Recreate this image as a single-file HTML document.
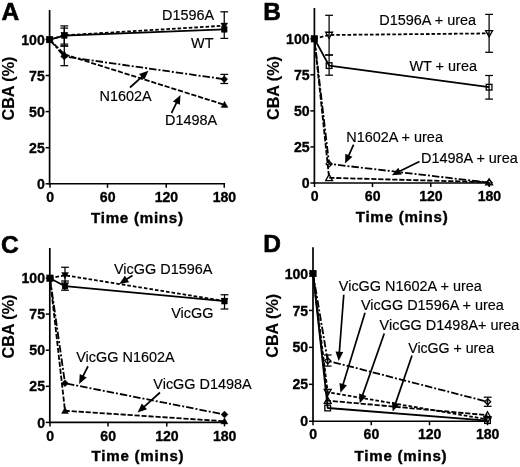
<!DOCTYPE html>
<html><head><meta charset="utf-8"><title>CBA time course</title>
<style>
html,body{margin:0;padding:0;background:#fff;}
svg{display:block;font-family:"Liberation Sans", sans-serif;}
text{fill:#000;}
</style></head>
<body>
<svg width="520" height="467" viewBox="0 0 520 467">
<rect x="0" y="0" width="520" height="467" fill="#fff"/>
<line x1="49.60" y1="10.00" x2="49.60" y2="184.60" stroke="#000" stroke-width="1.7" stroke-linecap="butt"/>
<line x1="48.80" y1="183.80" x2="225.05" y2="183.80" stroke="#000" stroke-width="1.6" stroke-linecap="butt"/>
<line x1="45.60" y1="183.80" x2="49.60" y2="183.80" stroke="#000" stroke-width="1.5" stroke-linecap="butt"/>
<text transform="translate(44.80 188.90) scale(0.93 1)" font-size="15.2" font-weight="bold" stroke="#000" stroke-width="0.35" text-anchor="end">0</text>
<line x1="45.60" y1="147.70" x2="49.60" y2="147.70" stroke="#000" stroke-width="1.5" stroke-linecap="butt"/>
<text transform="translate(44.80 152.80) scale(0.93 1)" font-size="15.2" font-weight="bold" stroke="#000" stroke-width="0.35" text-anchor="end">25</text>
<line x1="45.60" y1="111.60" x2="49.60" y2="111.60" stroke="#000" stroke-width="1.5" stroke-linecap="butt"/>
<text transform="translate(44.80 116.70) scale(0.93 1)" font-size="15.2" font-weight="bold" stroke="#000" stroke-width="0.35" text-anchor="end">50</text>
<line x1="45.60" y1="75.50" x2="49.60" y2="75.50" stroke="#000" stroke-width="1.5" stroke-linecap="butt"/>
<text transform="translate(44.80 80.60) scale(0.93 1)" font-size="15.2" font-weight="bold" stroke="#000" stroke-width="0.35" text-anchor="end">75</text>
<line x1="45.60" y1="39.40" x2="49.60" y2="39.40" stroke="#000" stroke-width="1.5" stroke-linecap="butt"/>
<text transform="translate(44.80 44.50) scale(0.93 1)" font-size="15.2" font-weight="bold" stroke="#000" stroke-width="0.35" text-anchor="end">100</text>
<line x1="50.00" y1="183.80" x2="50.00" y2="187.80" stroke="#000" stroke-width="1.5" stroke-linecap="butt"/>
<text transform="translate(50.20 202.00) scale(0.93 1)" font-size="15.2" font-weight="bold" stroke="#000" stroke-width="0.35" text-anchor="middle">0</text>
<line x1="107.50" y1="183.80" x2="107.50" y2="187.80" stroke="#000" stroke-width="1.5" stroke-linecap="butt"/>
<text transform="translate(107.70 202.00) scale(0.93 1)" font-size="15.2" font-weight="bold" stroke="#000" stroke-width="0.35" text-anchor="middle">60</text>
<line x1="166.25" y1="183.80" x2="166.25" y2="187.80" stroke="#000" stroke-width="1.5" stroke-linecap="butt"/>
<text transform="translate(166.45 202.00) scale(0.93 1)" font-size="15.2" font-weight="bold" stroke="#000" stroke-width="0.35" text-anchor="middle">120</text>
<line x1="224.25" y1="183.80" x2="224.25" y2="187.80" stroke="#000" stroke-width="1.5" stroke-linecap="butt"/>
<text transform="translate(224.45 202.00) scale(0.93 1)" font-size="15.2" font-weight="bold" stroke="#000" stroke-width="0.35" text-anchor="middle">180</text>
<text transform="translate(1.50 19.60)" font-size="24.5" font-weight="bold" stroke="#000" stroke-width="0.6" text-anchor="start">A</text>
<text transform="translate(14.30 88.50) rotate(-90) scale(0.965 1)" font-size="16.7" font-weight="bold" stroke="#000" stroke-width="0.15" text-anchor="middle">CBA (%)</text>
<text transform="translate(137.38 223.00)" font-size="15.1" font-weight="bold" stroke="#000" stroke-width="0.4" letter-spacing="0.76" text-anchor="middle">Time (mins)</text>
<line x1="64.30" y1="25.90" x2="64.30" y2="44.10" stroke="#000" stroke-width="1.25" stroke-linecap="butt"/>
<line x1="60.40" y1="25.90" x2="68.20" y2="25.90" stroke="#000" stroke-width="1.25" stroke-linecap="butt"/>
<line x1="60.40" y1="44.10" x2="68.20" y2="44.10" stroke="#000" stroke-width="1.25" stroke-linecap="butt"/>
<line x1="64.30" y1="28.10" x2="64.30" y2="46.00" stroke="#000" stroke-width="1.25" stroke-linecap="butt"/>
<line x1="60.40" y1="28.10" x2="68.20" y2="28.10" stroke="#000" stroke-width="1.25" stroke-linecap="butt"/>
<line x1="60.40" y1="46.00" x2="68.20" y2="46.00" stroke="#000" stroke-width="1.25" stroke-linecap="butt"/>
<line x1="64.30" y1="46.00" x2="64.30" y2="65.70" stroke="#000" stroke-width="1.25" stroke-linecap="butt"/>
<line x1="60.40" y1="46.00" x2="68.20" y2="46.00" stroke="#000" stroke-width="1.25" stroke-linecap="butt"/>
<line x1="60.40" y1="65.70" x2="68.20" y2="65.70" stroke="#000" stroke-width="1.25" stroke-linecap="butt"/>
<line x1="224.25" y1="11.80" x2="224.25" y2="38.40" stroke="#000" stroke-width="1.25" stroke-linecap="butt"/>
<line x1="220.35" y1="11.80" x2="228.15" y2="11.80" stroke="#000" stroke-width="1.25" stroke-linecap="butt"/>
<line x1="220.35" y1="38.40" x2="228.15" y2="38.40" stroke="#000" stroke-width="1.25" stroke-linecap="butt"/>
<line x1="224.25" y1="74.40" x2="224.25" y2="83.50" stroke="#000" stroke-width="1.25" stroke-linecap="butt"/>
<line x1="220.35" y1="74.40" x2="228.15" y2="74.40" stroke="#000" stroke-width="1.25" stroke-linecap="butt"/>
<line x1="220.35" y1="83.50" x2="228.15" y2="83.50" stroke="#000" stroke-width="1.25" stroke-linecap="butt"/>
<polyline points="49.60,39.60 64.30,35.30 224.25,25.70" fill="none" stroke="#000" stroke-width="1.8" stroke-dasharray="3.6 2" stroke-linejoin="round"/>
<polyline points="49.60,39.60 64.30,56.50 224.25,79.20" fill="none" stroke="#000" stroke-width="1.8" stroke-dasharray="7.5 2 2 2" stroke-linejoin="round"/>
<polyline points="49.60,39.60 64.30,54.30 224.50,104.80" fill="none" stroke="#000" stroke-width="1.8" stroke-dasharray="5.2 1.8" stroke-linejoin="round"/>
<polyline points="49.60,39.60 64.30,35.60 224.25,29.40" fill="none" stroke="#000" stroke-width="1.8" stroke-linejoin="round"/>
<polygon points="64.30,38.75 67.75,32.54 60.85,32.54" fill="#000" stroke="#000" stroke-width="0.4"/>
<polygon points="224.25,29.15 227.70,22.94 220.80,22.94" fill="#000" stroke="#000" stroke-width="0.4"/>
<polygon points="64.30,53.05 67.75,56.50 64.30,59.95 60.85,56.50" fill="#000" stroke="#000" stroke-width="0.4"/>
<polygon points="224.25,75.75 227.70,79.20 224.25,82.65 220.80,79.20" fill="#000" stroke="#000" stroke-width="0.4"/>
<polygon points="64.30,50.85 67.75,57.06 60.85,57.06" fill="#000" stroke="#000" stroke-width="0.4"/>
<polygon points="224.50,101.35 227.95,107.56 221.05,107.56" fill="#000" stroke="#000" stroke-width="0.4"/>
<rect x="61.45" y="32.75" width="5.70" height="5.70" fill="#000" stroke="#000" stroke-width="0.4"/>
<rect x="221.40" y="26.55" width="5.70" height="5.70" fill="#000" stroke="#000" stroke-width="0.4"/>
<rect x="46.27" y="36.27" width="6.65" height="6.65" fill="#000" stroke="#000" stroke-width="0.4"/>
<text transform="translate(162.00 20.00)" font-size="14.45" stroke="#000" stroke-width="0.15" text-anchor="start">D1596A</text>
<text transform="translate(191.00 47.60)" font-size="14.45" stroke="#000" stroke-width="0.15" text-anchor="start">WT</text>
<text transform="translate(99.50 101.30)" font-size="14.45" stroke="#000" stroke-width="0.15" text-anchor="start">N1602A</text>
<text transform="translate(165.00 125.00)" font-size="14.45" stroke="#000" stroke-width="0.15" text-anchor="start">D1498A</text>
<line x1="130.00" y1="87.50" x2="142.39" y2="76.30" stroke="#000" stroke-width="1.7" stroke-linecap="butt"/>
<polygon points="148.47,70.80 144.26,79.86 139.03,74.08" fill="#000"/>
<line x1="171.50" y1="113.00" x2="176.85" y2="102.24" stroke="#000" stroke-width="1.7" stroke-linecap="butt"/>
<polygon points="180.50,94.89 179.90,104.87 172.91,101.40" fill="#000"/>
<line x1="314.40" y1="8.00" x2="314.40" y2="183.80" stroke="#000" stroke-width="1.7" stroke-linecap="butt"/>
<line x1="313.60" y1="183.00" x2="490.05" y2="183.00" stroke="#000" stroke-width="1.6" stroke-linecap="butt"/>
<line x1="310.40" y1="183.00" x2="314.40" y2="183.00" stroke="#000" stroke-width="1.5" stroke-linecap="butt"/>
<text transform="translate(309.60 188.10) scale(0.93 1)" font-size="15.2" font-weight="bold" stroke="#000" stroke-width="0.35" text-anchor="end">0</text>
<line x1="310.40" y1="146.94" x2="314.40" y2="146.94" stroke="#000" stroke-width="1.5" stroke-linecap="butt"/>
<text transform="translate(309.60 152.04) scale(0.93 1)" font-size="15.2" font-weight="bold" stroke="#000" stroke-width="0.35" text-anchor="end">25</text>
<line x1="310.40" y1="110.88" x2="314.40" y2="110.88" stroke="#000" stroke-width="1.5" stroke-linecap="butt"/>
<text transform="translate(309.60 115.97) scale(0.93 1)" font-size="15.2" font-weight="bold" stroke="#000" stroke-width="0.35" text-anchor="end">50</text>
<line x1="310.40" y1="74.81" x2="314.40" y2="74.81" stroke="#000" stroke-width="1.5" stroke-linecap="butt"/>
<text transform="translate(309.60 79.91) scale(0.93 1)" font-size="15.2" font-weight="bold" stroke="#000" stroke-width="0.35" text-anchor="end">75</text>
<line x1="310.40" y1="38.75" x2="314.40" y2="38.75" stroke="#000" stroke-width="1.5" stroke-linecap="butt"/>
<text transform="translate(309.60 43.85) scale(0.93 1)" font-size="15.2" font-weight="bold" stroke="#000" stroke-width="0.35" text-anchor="end">100</text>
<line x1="314.50" y1="183.00" x2="314.50" y2="187.00" stroke="#000" stroke-width="1.5" stroke-linecap="butt"/>
<text transform="translate(314.70 201.20) scale(0.93 1)" font-size="15.2" font-weight="bold" stroke="#000" stroke-width="0.35" text-anchor="middle">0</text>
<line x1="372.50" y1="183.00" x2="372.50" y2="187.00" stroke="#000" stroke-width="1.5" stroke-linecap="butt"/>
<text transform="translate(372.70 201.20) scale(0.93 1)" font-size="15.2" font-weight="bold" stroke="#000" stroke-width="0.35" text-anchor="middle">60</text>
<line x1="430.75" y1="183.00" x2="430.75" y2="187.00" stroke="#000" stroke-width="1.5" stroke-linecap="butt"/>
<text transform="translate(430.95 201.20) scale(0.93 1)" font-size="15.2" font-weight="bold" stroke="#000" stroke-width="0.35" text-anchor="middle">120</text>
<line x1="489.25" y1="183.00" x2="489.25" y2="187.00" stroke="#000" stroke-width="1.5" stroke-linecap="butt"/>
<text transform="translate(489.45 201.20) scale(0.93 1)" font-size="15.2" font-weight="bold" stroke="#000" stroke-width="0.35" text-anchor="middle">180</text>
<text transform="translate(263.30 19.60)" font-size="24.5" font-weight="bold" stroke="#000" stroke-width="0.6" text-anchor="start">B</text>
<text transform="translate(279.20 88.00) rotate(-90) scale(0.965 1)" font-size="16.7" font-weight="bold" stroke="#000" stroke-width="0.15" text-anchor="middle">CBA (%)</text>
<text transform="translate(402.08 222.00)" font-size="15.1" font-weight="bold" stroke="#000" stroke-width="0.4" letter-spacing="0.76" text-anchor="middle">Time (mins)</text>
<line x1="329.10" y1="15.30" x2="329.10" y2="55.00" stroke="#000" stroke-width="1.25" stroke-linecap="butt"/>
<line x1="325.20" y1="15.30" x2="333.00" y2="15.30" stroke="#000" stroke-width="1.25" stroke-linecap="butt"/>
<line x1="325.20" y1="55.00" x2="333.00" y2="55.00" stroke="#000" stroke-width="1.25" stroke-linecap="butt"/>
<line x1="329.10" y1="55.00" x2="329.10" y2="75.20" stroke="#000" stroke-width="1.25" stroke-linecap="butt"/>
<line x1="325.20" y1="55.00" x2="333.00" y2="55.00" stroke="#000" stroke-width="1.25" stroke-linecap="butt"/>
<line x1="325.20" y1="75.20" x2="333.00" y2="75.20" stroke="#000" stroke-width="1.25" stroke-linecap="butt"/>
<line x1="489.10" y1="14.40" x2="489.10" y2="52.30" stroke="#000" stroke-width="1.25" stroke-linecap="butt"/>
<line x1="485.20" y1="14.40" x2="493.00" y2="14.40" stroke="#000" stroke-width="1.25" stroke-linecap="butt"/>
<line x1="485.20" y1="52.30" x2="493.00" y2="52.30" stroke="#000" stroke-width="1.25" stroke-linecap="butt"/>
<line x1="489.10" y1="75.50" x2="489.10" y2="99.10" stroke="#000" stroke-width="1.25" stroke-linecap="butt"/>
<line x1="485.20" y1="75.50" x2="493.00" y2="75.50" stroke="#000" stroke-width="1.25" stroke-linecap="butt"/>
<line x1="485.20" y1="99.10" x2="493.00" y2="99.10" stroke="#000" stroke-width="1.25" stroke-linecap="butt"/>
<polyline points="314.40,38.75 329.10,35.00 489.10,33.40" fill="none" stroke="#000" stroke-width="1.8" stroke-dasharray="3.6 2" stroke-linejoin="round"/>
<polyline points="314.40,38.75 329.10,163.90 489.10,182.60" fill="none" stroke="#000" stroke-width="1.8" stroke-dasharray="7.5 2 2 2" stroke-linejoin="round"/>
<polyline points="314.40,38.75 329.10,177.80 489.10,182.20" fill="none" stroke="#000" stroke-width="1.8" stroke-dasharray="5.2 1.8" stroke-linejoin="round"/>
<polyline points="314.40,38.75 329.10,65.60 489.10,87.20" fill="none" stroke="#000" stroke-width="1.8" stroke-linejoin="round"/>
<polygon points="329.10,38.45 332.55,32.24 325.65,32.24" fill="none" stroke="#000" stroke-width="1.3"/>
<polygon points="489.10,36.85 492.55,30.64 485.65,30.64" fill="none" stroke="#000" stroke-width="1.3"/>
<polygon points="329.10,160.90 332.10,163.90 329.10,166.90 326.10,163.90" fill="none" stroke="#000" stroke-width="1.3"/>
<polygon points="489.10,179.60 492.10,182.60 489.10,185.60 486.10,182.60" fill="none" stroke="#000" stroke-width="1.3"/>
<polygon points="329.10,174.35 332.55,180.56 325.65,180.56" fill="none" stroke="#000" stroke-width="1.3"/>
<polygon points="489.10,178.75 492.55,184.96 485.65,184.96" fill="none" stroke="#000" stroke-width="1.3"/>
<rect x="326.25" y="62.75" width="5.70" height="5.70" fill="none" stroke="#000" stroke-width="1.3"/>
<rect x="486.25" y="84.35" width="5.70" height="5.70" fill="none" stroke="#000" stroke-width="1.3"/>
<rect x="311.07" y="35.42" width="6.65" height="6.65" fill="#000" stroke="#000" stroke-width="0.4"/>
<text transform="translate(379.30 24.50)" font-size="14.45" stroke="#000" stroke-width="0.15" text-anchor="start">D1596A + urea</text>
<text transform="translate(409.40 70.75)" font-size="14.45" stroke="#000" stroke-width="0.15" text-anchor="start">WT + urea</text>
<text transform="translate(346.20 142.40)" font-size="14.45" stroke="#000" stroke-width="0.15" text-anchor="start">N1602A + urea</text>
<text transform="translate(421.00 162.50)" font-size="14.45" stroke="#000" stroke-width="0.15" text-anchor="start">D1498A + urea</text>
<line x1="353.60" y1="144.60" x2="348.47" y2="156.13" stroke="#000" stroke-width="1.7" stroke-linecap="butt"/>
<polygon points="345.13,163.62 345.31,153.63 352.44,156.80" fill="#000"/>
<line x1="419.50" y1="161.50" x2="399.14" y2="171.56" stroke="#000" stroke-width="1.7" stroke-linecap="butt"/>
<polygon points="391.79,175.20 398.31,167.63 401.77,174.62" fill="#000"/>
<line x1="49.80" y1="248.00" x2="49.80" y2="423.20" stroke="#000" stroke-width="1.7" stroke-linecap="butt"/>
<line x1="49.00" y1="422.40" x2="225.30" y2="422.40" stroke="#000" stroke-width="1.6" stroke-linecap="butt"/>
<line x1="45.80" y1="422.40" x2="49.80" y2="422.40" stroke="#000" stroke-width="1.5" stroke-linecap="butt"/>
<text transform="translate(45.00 427.50) scale(0.93 1)" font-size="15.2" font-weight="bold" stroke="#000" stroke-width="0.35" text-anchor="end">0</text>
<line x1="45.80" y1="386.30" x2="49.80" y2="386.30" stroke="#000" stroke-width="1.5" stroke-linecap="butt"/>
<text transform="translate(45.00 391.40) scale(0.93 1)" font-size="15.2" font-weight="bold" stroke="#000" stroke-width="0.35" text-anchor="end">25</text>
<line x1="45.80" y1="350.20" x2="49.80" y2="350.20" stroke="#000" stroke-width="1.5" stroke-linecap="butt"/>
<text transform="translate(45.00 355.30) scale(0.93 1)" font-size="15.2" font-weight="bold" stroke="#000" stroke-width="0.35" text-anchor="end">50</text>
<line x1="45.80" y1="314.10" x2="49.80" y2="314.10" stroke="#000" stroke-width="1.5" stroke-linecap="butt"/>
<text transform="translate(45.00 319.20) scale(0.93 1)" font-size="15.2" font-weight="bold" stroke="#000" stroke-width="0.35" text-anchor="end">75</text>
<line x1="45.80" y1="278.00" x2="49.80" y2="278.00" stroke="#000" stroke-width="1.5" stroke-linecap="butt"/>
<text transform="translate(45.00 283.10) scale(0.93 1)" font-size="15.2" font-weight="bold" stroke="#000" stroke-width="0.35" text-anchor="end">100</text>
<line x1="50.00" y1="422.40" x2="50.00" y2="426.40" stroke="#000" stroke-width="1.5" stroke-linecap="butt"/>
<text transform="translate(50.20 440.60) scale(0.93 1)" font-size="15.2" font-weight="bold" stroke="#000" stroke-width="0.35" text-anchor="middle">0</text>
<line x1="108.00" y1="422.40" x2="108.00" y2="426.40" stroke="#000" stroke-width="1.5" stroke-linecap="butt"/>
<text transform="translate(108.20 440.60) scale(0.93 1)" font-size="15.2" font-weight="bold" stroke="#000" stroke-width="0.35" text-anchor="middle">60</text>
<line x1="166.75" y1="422.40" x2="166.75" y2="426.40" stroke="#000" stroke-width="1.5" stroke-linecap="butt"/>
<text transform="translate(166.95 440.60) scale(0.93 1)" font-size="15.2" font-weight="bold" stroke="#000" stroke-width="0.35" text-anchor="middle">120</text>
<line x1="224.50" y1="422.40" x2="224.50" y2="426.40" stroke="#000" stroke-width="1.5" stroke-linecap="butt"/>
<text transform="translate(224.70 440.60) scale(0.93 1)" font-size="15.2" font-weight="bold" stroke="#000" stroke-width="0.35" text-anchor="middle">180</text>
<text transform="translate(1.10 252.80)" font-size="24.5" font-weight="bold" stroke="#000" stroke-width="0.6" text-anchor="start">C</text>
<text transform="translate(14.30 326.50) rotate(-90) scale(0.965 1)" font-size="16.7" font-weight="bold" stroke="#000" stroke-width="0.15" text-anchor="middle">CBA (%)</text>
<text transform="translate(137.98 461.20)" font-size="15.1" font-weight="bold" stroke="#000" stroke-width="0.4" letter-spacing="0.76" text-anchor="middle">Time (mins)</text>
<line x1="65.00" y1="267.25" x2="65.00" y2="283.00" stroke="#000" stroke-width="1.25" stroke-linecap="butt"/>
<line x1="61.10" y1="267.25" x2="68.90" y2="267.25" stroke="#000" stroke-width="1.25" stroke-linecap="butt"/>
<line x1="61.10" y1="283.00" x2="68.90" y2="283.00" stroke="#000" stroke-width="1.25" stroke-linecap="butt"/>
<line x1="65.00" y1="281.00" x2="65.00" y2="290.25" stroke="#000" stroke-width="1.25" stroke-linecap="butt"/>
<line x1="61.10" y1="281.00" x2="68.90" y2="281.00" stroke="#000" stroke-width="1.25" stroke-linecap="butt"/>
<line x1="61.10" y1="290.25" x2="68.90" y2="290.25" stroke="#000" stroke-width="1.25" stroke-linecap="butt"/>
<line x1="224.50" y1="294.75" x2="224.50" y2="309.00" stroke="#000" stroke-width="1.25" stroke-linecap="butt"/>
<line x1="220.60" y1="294.75" x2="228.40" y2="294.75" stroke="#000" stroke-width="1.25" stroke-linecap="butt"/>
<line x1="220.60" y1="309.00" x2="228.40" y2="309.00" stroke="#000" stroke-width="1.25" stroke-linecap="butt"/>
<polyline points="50.00,278.25 65.00,275.25 224.50,301.00" fill="none" stroke="#000" stroke-width="1.8" stroke-dasharray="3.6 2" stroke-linejoin="round"/>
<polyline points="50.00,278.25 65.00,383.25 224.50,414.50" fill="none" stroke="#000" stroke-width="1.8" stroke-dasharray="7.5 2 2 2" stroke-linejoin="round"/>
<polyline points="50.00,278.25 65.00,410.75 224.50,421.25" fill="none" stroke="#000" stroke-width="1.8" stroke-dasharray="5.2 1.8" stroke-linejoin="round"/>
<polyline points="50.00,278.25 65.00,286.20 224.50,301.20" fill="none" stroke="#000" stroke-width="1.8" stroke-linejoin="round"/>
<polygon points="65.00,278.70 68.45,272.49 61.55,272.49" fill="#000" stroke="#000" stroke-width="0.4"/>
<polygon points="224.50,304.45 227.95,298.24 221.05,298.24" fill="#000" stroke="#000" stroke-width="0.4"/>
<polygon points="65.00,379.80 68.45,383.25 65.00,386.70 61.55,383.25" fill="#000" stroke="#000" stroke-width="0.4"/>
<polygon points="224.50,411.05 227.95,414.50 224.50,417.95 221.05,414.50" fill="#000" stroke="#000" stroke-width="0.4"/>
<polygon points="65.00,407.30 68.45,413.51 61.55,413.51" fill="#000" stroke="#000" stroke-width="0.4"/>
<polygon points="224.50,417.80 227.95,424.01 221.05,424.01" fill="#000" stroke="#000" stroke-width="0.4"/>
<rect x="62.15" y="283.35" width="5.70" height="5.70" fill="#000" stroke="#000" stroke-width="0.4"/>
<rect x="221.65" y="298.35" width="5.70" height="5.70" fill="#000" stroke="#000" stroke-width="0.4"/>
<rect x="46.67" y="274.93" width="6.65" height="6.65" fill="#000" stroke="#000" stroke-width="0.4"/>
<text transform="translate(114.00 273.50)" font-size="14.45" stroke="#000" stroke-width="0.15" text-anchor="start">VicGG D1596A</text>
<text transform="translate(171.25 317.75)" font-size="14.45" stroke="#000" stroke-width="0.15" text-anchor="start">VicGG</text>
<text transform="translate(76.25 361.75)" font-size="14.45" stroke="#000" stroke-width="0.15" text-anchor="start">VicGG N1602A</text>
<text transform="translate(153.30 388.75)" font-size="14.45" stroke="#000" stroke-width="0.15" text-anchor="start">VicGG D1498A</text>
<line x1="132.50" y1="275.50" x2="126.15" y2="279.56" stroke="#000" stroke-width="1.7" stroke-linecap="butt"/>
<polygon points="119.24,283.99 124.89,275.74 129.09,282.31" fill="#000"/>
<line x1="88.00" y1="366.25" x2="82.76" y2="376.72" stroke="#000" stroke-width="1.7" stroke-linecap="butt"/>
<polygon points="79.10,384.05 79.72,374.08 86.70,377.57" fill="#000"/>
<line x1="160.00" y1="392.50" x2="143.69" y2="407.13" stroke="#000" stroke-width="1.7" stroke-linecap="butt"/>
<polygon points="137.58,412.60 141.83,403.56 147.03,409.36" fill="#000"/>
<line x1="313.00" y1="247.20" x2="313.00" y2="422.05" stroke="#000" stroke-width="1.7" stroke-linecap="butt"/>
<line x1="312.20" y1="421.25" x2="488.30" y2="421.25" stroke="#000" stroke-width="1.6" stroke-linecap="butt"/>
<line x1="309.00" y1="421.25" x2="313.00" y2="421.25" stroke="#000" stroke-width="1.5" stroke-linecap="butt"/>
<text transform="translate(308.20 426.35) scale(0.93 1)" font-size="15.2" font-weight="bold" stroke="#000" stroke-width="0.35" text-anchor="end">0</text>
<line x1="309.00" y1="384.31" x2="313.00" y2="384.31" stroke="#000" stroke-width="1.5" stroke-linecap="butt"/>
<text transform="translate(308.20 389.41) scale(0.93 1)" font-size="15.2" font-weight="bold" stroke="#000" stroke-width="0.35" text-anchor="end">25</text>
<line x1="309.00" y1="347.38" x2="313.00" y2="347.38" stroke="#000" stroke-width="1.5" stroke-linecap="butt"/>
<text transform="translate(308.20 352.48) scale(0.93 1)" font-size="15.2" font-weight="bold" stroke="#000" stroke-width="0.35" text-anchor="end">50</text>
<line x1="309.00" y1="310.44" x2="313.00" y2="310.44" stroke="#000" stroke-width="1.5" stroke-linecap="butt"/>
<text transform="translate(308.20 315.54) scale(0.93 1)" font-size="15.2" font-weight="bold" stroke="#000" stroke-width="0.35" text-anchor="end">75</text>
<line x1="309.00" y1="273.50" x2="313.00" y2="273.50" stroke="#000" stroke-width="1.5" stroke-linecap="butt"/>
<text transform="translate(308.20 278.60) scale(0.93 1)" font-size="15.2" font-weight="bold" stroke="#000" stroke-width="0.35" text-anchor="end">100</text>
<line x1="313.00" y1="421.25" x2="313.00" y2="425.25" stroke="#000" stroke-width="1.5" stroke-linecap="butt"/>
<text transform="translate(313.20 439.45) scale(0.93 1)" font-size="15.2" font-weight="bold" stroke="#000" stroke-width="0.35" text-anchor="middle">0</text>
<line x1="371.25" y1="421.25" x2="371.25" y2="425.25" stroke="#000" stroke-width="1.5" stroke-linecap="butt"/>
<text transform="translate(371.45 439.45) scale(0.93 1)" font-size="15.2" font-weight="bold" stroke="#000" stroke-width="0.35" text-anchor="middle">60</text>
<line x1="429.50" y1="421.25" x2="429.50" y2="425.25" stroke="#000" stroke-width="1.5" stroke-linecap="butt"/>
<text transform="translate(429.70 439.45) scale(0.93 1)" font-size="15.2" font-weight="bold" stroke="#000" stroke-width="0.35" text-anchor="middle">120</text>
<line x1="487.50" y1="421.25" x2="487.50" y2="425.25" stroke="#000" stroke-width="1.5" stroke-linecap="butt"/>
<text transform="translate(487.70 439.45) scale(0.93 1)" font-size="15.2" font-weight="bold" stroke="#000" stroke-width="0.35" text-anchor="middle">180</text>
<text transform="translate(263.20 251.80)" font-size="24.5" font-weight="bold" stroke="#000" stroke-width="0.6" text-anchor="start">D</text>
<text transform="translate(277.70 325.80) rotate(-90) scale(0.965 1)" font-size="16.7" font-weight="bold" stroke="#000" stroke-width="0.15" text-anchor="middle">CBA (%)</text>
<text transform="translate(400.98 460.90)" font-size="15.1" font-weight="bold" stroke="#000" stroke-width="0.4" letter-spacing="0.76" text-anchor="middle">Time (mins)</text>
<line x1="327.70" y1="355.00" x2="327.70" y2="366.10" stroke="#000" stroke-width="1.25" stroke-linecap="butt"/>
<line x1="323.80" y1="355.00" x2="331.60" y2="355.00" stroke="#000" stroke-width="1.25" stroke-linecap="butt"/>
<line x1="323.80" y1="366.10" x2="331.60" y2="366.10" stroke="#000" stroke-width="1.25" stroke-linecap="butt"/>
<line x1="487.70" y1="397.20" x2="487.70" y2="406.30" stroke="#000" stroke-width="1.25" stroke-linecap="butt"/>
<line x1="483.80" y1="397.20" x2="491.60" y2="397.20" stroke="#000" stroke-width="1.25" stroke-linecap="butt"/>
<line x1="483.80" y1="406.30" x2="491.60" y2="406.30" stroke="#000" stroke-width="1.25" stroke-linecap="butt"/>
<polyline points="313.00,273.50 327.70,392.20 487.50,419.40" fill="none" stroke="#000" stroke-width="1.8" stroke-dasharray="3.6 2" stroke-linejoin="round"/>
<polyline points="313.00,273.50 327.70,360.80 487.70,401.80" fill="none" stroke="#000" stroke-width="1.8" stroke-dasharray="7.5 2 2 2" stroke-linejoin="round"/>
<polyline points="313.00,273.50 327.70,400.60 487.50,415.20" fill="none" stroke="#000" stroke-width="1.8" stroke-dasharray="5.2 1.8" stroke-linejoin="round"/>
<polyline points="313.00,273.50 327.70,408.00 487.50,420.60" fill="none" stroke="#000" stroke-width="1.8" stroke-linejoin="round"/>
<polygon points="327.70,395.65 331.15,389.44 324.25,389.44" fill="none" stroke="#000" stroke-width="1.3"/>
<polygon points="487.50,422.85 490.95,416.64 484.05,416.64" fill="none" stroke="#000" stroke-width="1.3"/>
<polygon points="327.70,357.80 330.70,360.80 327.70,363.80 324.70,360.80" fill="none" stroke="#000" stroke-width="1.3"/>
<polygon points="487.70,398.80 490.70,401.80 487.70,404.80 484.70,401.80" fill="none" stroke="#000" stroke-width="1.3"/>
<polygon points="327.70,397.15 331.15,403.36 324.25,403.36" fill="none" stroke="#000" stroke-width="1.3"/>
<polygon points="487.50,411.75 490.95,417.96 484.05,417.96" fill="none" stroke="#000" stroke-width="1.3"/>
<rect x="324.85" y="405.15" width="5.70" height="5.70" fill="none" stroke="#000" stroke-width="1.3"/>
<rect x="484.65" y="417.75" width="5.70" height="5.70" fill="none" stroke="#000" stroke-width="1.3"/>
<rect x="309.68" y="270.18" width="6.65" height="6.65" fill="#000" stroke="#000" stroke-width="0.4"/>
<text transform="translate(338.80 291.00)" font-size="14.45" stroke="#000" stroke-width="0.15" text-anchor="start">VicGG N1602A + urea</text>
<text transform="translate(360.90 310.25)" font-size="14.45" stroke="#000" stroke-width="0.15" text-anchor="start">VicGG D1596A + urea</text>
<text transform="translate(379.60 330.25)" font-size="14.45" stroke="#000" stroke-width="0.15" text-anchor="start">VicGG D1498A+ urea</text>
<text transform="translate(408.20 352.50) scale(0.98 1)" font-size="14.45" stroke="#000" stroke-width="0.15" text-anchor="start">VicGG + urea</text>
<line x1="343.75" y1="294.75" x2="339.31" y2="352.72" stroke="#000" stroke-width="1.7" stroke-linecap="butt"/>
<polygon points="338.68,360.90 335.50,351.43 343.27,352.02" fill="#000"/>
<line x1="365.00" y1="312.75" x2="342.89" y2="385.02" stroke="#000" stroke-width="1.7" stroke-linecap="butt"/>
<polygon points="340.49,392.86 339.45,382.92 346.91,385.20" fill="#000"/>
<line x1="384.25" y1="333.50" x2="362.42" y2="395.61" stroke="#000" stroke-width="1.7" stroke-linecap="butt"/>
<polygon points="359.70,403.35 359.07,393.38 366.43,395.96" fill="#000"/>
<line x1="412.00" y1="355.50" x2="395.37" y2="403.85" stroke="#000" stroke-width="1.7" stroke-linecap="butt"/>
<polygon points="392.71,411.60 392.01,401.63 399.39,404.17" fill="#000"/>
</svg>
</body></html>
